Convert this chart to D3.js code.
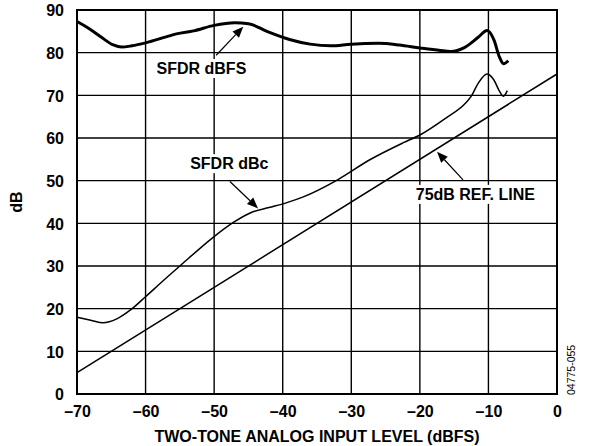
<!DOCTYPE html>
<html><head><meta charset="utf-8">
<script src="https://cdn.jsdelivr.net/npm/d3@7"></script>
<style>body{margin:0;background:#fff}svg{display:block}text{font-family:"Liberation Sans",Arial,sans-serif}</style>
</head><body><svg id="c" width="590" height="446"></svg>
<script>
const xTicks = [-70,-60,-50,-40,-30,-20,-10,0];
const yTicks = [0,10,20,30,40,50,60,70,80,90];
const dbfsX = [-70,-68,-66.6,-64.7,-63.5,-62,-60,-57,-55.5,-53,-50,-47,-45,-42.3,-39,-36,-33,-30,-26,-23,-20,-17,-15.5,-13.5,-11.5,-10.2,-9.2,-8.4,-7.8,-7.1];
const dbfsY = [87.3,85.4,83.8,81.8,81.3,81.6,82.3,83.7,84.4,85.1,86.4,87.0,86.8,85.0,83.1,82.0,81.6,82.0,82.2,81.8,81.1,80.5,80.3,81.2,83.6,85.2,83.0,79.0,77.4,78.1];
const dbcX = [-70,-68,-66.2,-64.2,-62.2,-60,-57.4,-55,-50,-47.2,-44.5,-42,-39.5,-37,-32,-27.3,-22.4,-20,-16.1,-13.5,-12.5,-11.5,-10.2,-9.2,-8.4,-7.8,-7.25];
const dbcY = [18.0,17.3,16.7,17.6,19.7,22.8,26.6,30.0,36.9,40.2,42.6,43.7,44.8,46.2,50.2,54.9,58.9,60.7,64.8,67.9,69.8,72.8,75.0,73.6,71.0,69.8,71.1];
const refX = [-70,0];
const refY = [5,75];
const labelTexts = ["SFDR dBFS","SFDR dBc","75dB REF. LINE"];
const labelX = [-58.4,-53.5,-20.6];
const labelY = [75.0,52.7,45.5];
const arrowTailX = [-49.7,-47.7,-13.7];
const arrowTailY = [79.4,49.8,50.2];
const arrowTipX = [-45.75,-43.6,-17.5];
const arrowTipY = [86.1,43.5,56.8];
const xTitle = "TWO-TONE ANALOG INPUT LEVEL (dBFS)";
const yTitle = "dB";
const figId = "04775-055";

const svg = d3.select("#c");
const L=77,R=557,T=10,B=394;
const x = d3.scaleLinear().domain([-70,0]).range([L,R]);
const y = d3.scaleLinear().domain([0,90]).range([B,T]);

// grid
const g = svg.append("g");
g.selectAll(".vx").data(xTicks).enter().append("line")
  .attr("x1",d=>x(d)).attr("x2",d=>x(d)).attr("y1",T).attr("y2",B)
  .attr("stroke","#000").attr("stroke-width",1.4);
g.selectAll(".hy").data(yTicks).enter().append("line")
  .attr("y1",d=>y(d)).attr("y2",d=>y(d)).attr("x1",L).attr("x2",R)
  .attr("stroke","#000").attr("stroke-width",1.4);

// labels with white backgrounds (break grid)
const lab = svg.append("g");
labelTexts.forEach((t,i)=>{
  const tx = lab.append("text").attr("x",x(labelX[i])).attr("y",y(labelY[i]))
    .attr("font-size",16).attr("font-weight","bold").text(t);
  const bb = tx.node().getBBox();
  lab.insert("rect","text").attr("x",bb.x-2).attr("y",bb.y-1).attr("width",bb.width+4).attr("height",bb.height+2).attr("fill","#fff");
});

// frame
svg.append("rect").attr("x",L).attr("y",T).attr("width",R-L).attr("height",B-T)
  .attr("fill","none").attr("stroke","#000").attr("stroke-width",2);

// axes tick labels
const xa = d3.axisBottom(x).tickValues(xTicks).tickSize(0).tickPadding(8)
  .tickFormat(d=> d<0 ? "\u2013"+Math.abs(d) : String(d));
const xg = svg.append("g").attr("transform",`translate(0,${B})`).call(xa);
xg.select(".domain").remove();
xg.selectAll("text").attr("font-size",16).attr("font-weight","bold").attr("fill","#000")
  .attr("font-family","Liberation Sans, Arial, sans-serif").attr("dy","0.95em");
const ya = d3.axisLeft(y).tickValues(yTicks).tickSize(0).tickPadding(13);
const yg = svg.append("g").attr("transform",`translate(${L},0)`).call(ya);
yg.select(".domain").remove();
yg.selectAll("text").attr("font-size",16).attr("font-weight","bold").attr("fill","#000")
  .attr("font-family","Liberation Sans, Arial, sans-serif").attr("dy","0.36em");

// curves
const line = d3.line().x(d=>x(d[0])).y(d=>y(d[1])).curve(d3.curveMonotoneX);
svg.append("path").datum(refX.map((v,i)=>[v,refY[i]])).attr("d",d3.line().x(d=>x(d[0])).y(d=>y(d[1])))
  .attr("fill","none").attr("stroke","#000").attr("stroke-width",1.5);
svg.append("path").datum(dbcX.map((v,i)=>[v,dbcY[i]])).attr("d",line)
  .attr("fill","none").attr("stroke","#000").attr("stroke-width",1.5).attr("stroke-linejoin","round");
svg.append("path").datum(dbfsX.map((v,i)=>[v,dbfsY[i]])).attr("d",line)
  .attr("fill","none").attr("stroke","#000").attr("stroke-width",3).attr("stroke-linejoin","round");

// arrows
arrowTailX.forEach((_,i)=>{
  const x1=x(arrowTailX[i]), y1=y(arrowTailY[i]), x2=x(arrowTipX[i]), y2=y(arrowTipY[i]);
  const a=Math.atan2(y2-y1,x2-x1), hl=11, hw=4.5;
  const bx=x2-hl*Math.cos(a), by=y2-hl*Math.sin(a);
  svg.append("line").attr("x1",x1).attr("y1",y1).attr("x2",bx).attr("y2",by).attr("stroke","#000").attr("stroke-width",1.2);
  svg.append("polygon").attr("points",[[x2,y2],[bx+hw*Math.sin(a),by-hw*Math.cos(a)],[bx-hw*Math.sin(a),by+hw*Math.cos(a)]].map(p=>p.join(",")).join(" ")).attr("fill","#000");
});

// titles
svg.append("text").attr("x",(L+R)/2).attr("y",442).attr("text-anchor","middle")
  .attr("font-size",16).attr("font-weight","bold").text(xTitle);
svg.append("text").attr("transform",`translate(21.5,${(T+B)/2}) rotate(-90)`).attr("text-anchor","middle")
  .attr("font-size",16).attr("font-weight","bold").text(yTitle);
svg.append("text").attr("transform",`translate(575,395) rotate(-90)`).attr("text-anchor","start")
  .attr("font-size",10.5).text(figId);
</script></body></html>
